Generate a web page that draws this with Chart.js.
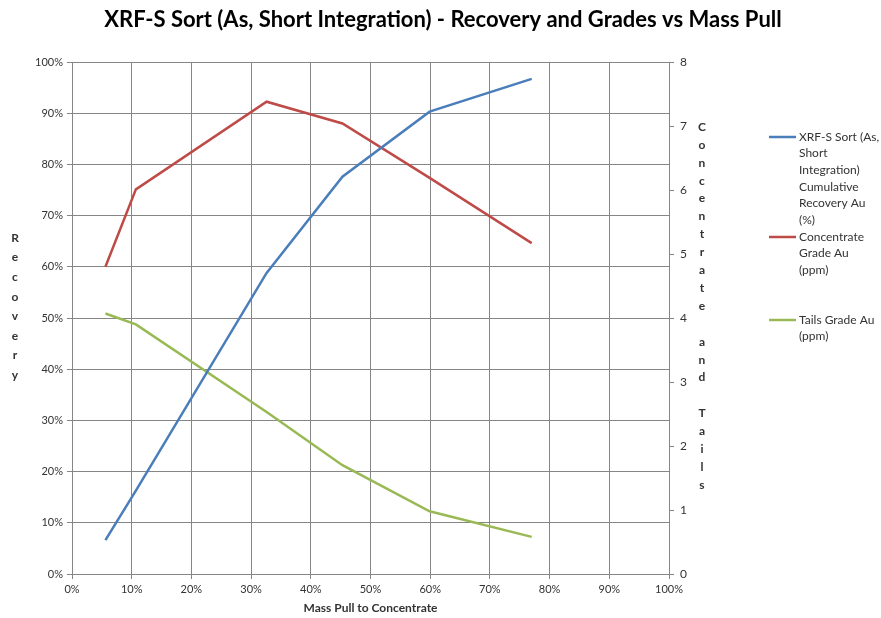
<!DOCTYPE html>
<html>
<head>
<meta charset="utf-8">
<script src="https://cdn.jsdelivr.net/npm/chart.js@4/dist/chart.umd.min.js"></script>
<style>
  body { margin: 0; background: #fff; }
  #wrap { width: 881px; height: 618px; position: relative; }
</style>
</head>
<body>
<div id="wrap"><canvas id="myChart" width="881" height="618"></canvas></div>
<script>
let massPull = [5.6, 10.7, 32.6, 45.3, 59.9, 77.0]
let recovery = [6.6, 16.3, 58.8, 77.6, 90.3, 96.7]
let concGrade = [4.80, 6.01, 7.38, 7.04, 6.19, 5.17]
let tailsGrade = [4.07, 3.90, 2.53, 1.70, 0.98, 0.58]

let seriesNames = [
    'XRF-S Sort (As, Short Integration) Cumulative Recovery Au (%)',
    'Concentrate Grade Au (ppm)',
    'Tails Grade Au (ppm)'
]
let legendLines = [
    ['XRF-S Sort (As,', 'Short', 'Integration)', 'Cumulative', 'Recovery Au', '(%)'],
    ['Concentrate', 'Grade Au', '(ppm)'],
    ['Tails Grade Au', '(ppm)']
]
let legendTop = [137, 237, 320]
let colors = ['#4a7ebb', '#be4b48', '#98b954']

let chartTitle = 'XRF-S Sort (As, Short Integration) - Recovery and Grades vs Mass Pull'
let xTitle = 'Mass Pull to Concentrate'
let leftTitle = 'Recovery'
let rightTitle = 'Concentrate and Tails'

let fontName = 'Lato, "Open Sans", sans-serif'
let gridColor = '#868686'
let textColor = '#333333'

function pairs(xs, ys) {
    return xs.map(function(x, i) { return { x: x, y: ys[i] } })
}

// title, stacked axis titles and legend drawn by hand
let extras = {
    id: 'extras',
    afterDraw: function(chart) {
        let ctx = chart.ctx
        ctx.save()
        ctx.fillStyle = '#000'
        ctx.textAlign = 'center'
        ctx.textBaseline = 'middle'
        ctx.font = 'bold 22px ' + fontName
        ctx.fillText(chartTitle, 443, 20)

        ctx.font = 'bold 12px ' + fontName
        ctx.fillStyle = textColor
        leftTitle.split('').forEach(function(ch, i) {
            ctx.fillText(ch, 15, 238 + i * 19.6)
        })
        rightTitle.split('').forEach(function(ch, i) {
            ctx.fillText(ch, 702, 127 + i * 17.9)
        })

        ctx.font = '12px ' + fontName
        ctx.textAlign = 'left'
        legendLines.forEach(function(lines, k) {
            ctx.strokeStyle = colors[k]
            ctx.lineWidth = 2.5
            ctx.beginPath()
            ctx.moveTo(769, legendTop[k])
            ctx.lineTo(796, legendTop[k])
            ctx.stroke()
            lines.forEach(function(t, j) {
                ctx.fillText(t, 799, legendTop[k] + j * 16.6)
            })
        })
        ctx.restore()
    }
}

let chart = new Chart(document.getElementById('myChart'), {
    type: 'line',
    data: {
        datasets: [{
                label: seriesNames[0],
                data: pairs(massPull, recovery),
                borderColor: colors[0],
                yAxisID: 'y'
            },
            {
                label: seriesNames[1],
                data: pairs(massPull, concGrade),
                borderColor: colors[1],
                yAxisID: 'y2'
            },
            {
                label: seriesNames[2],
                data: pairs(massPull, tailsGrade),
                borderColor: colors[2],
                yAxisID: 'y2'
            }
        ]
    },
    plugins: [extras],
    options: {
        responsive: false,
        animation: false,
        datasets: { line: { borderWidth: 2.5, pointRadius: 0, tension: 0, fill: false } },
        layout: { padding: { left: 28, right: 172, top: 62, bottom: 0 } },
        plugins: { legend: { display: false }, tooltip: { enabled: false } },
        scales: {
            x: {
                type: 'linear',
                min: 0,
                max: 100,
                afterFit: function(s) { s.height = 44 },
                grid: { color: gridColor, tickLength: 5 },
                border: { color: gridColor },
                ticks: {
                    stepSize: 10,
                    padding: 4,
                    color: textColor,
                    font: { family: fontName, size: 11 },
                    callback: function(v) { return v + '%' }
                },
                title: {
                    display: true,
                    text: xTitle,
                    color: textColor,
                    font: { family: fontName, size: 12, weight: 'bold' },
                    padding: { top: 0, bottom: 3 }
                }
            },
            y: {
                position: 'left',
                min: 0,
                max: 100,
                afterFit: function(s) { s.width = 44 },
                grid: { color: gridColor, tickLength: 5 },
                border: { color: gridColor },
                ticks: {
                    stepSize: 10,
                    padding: 4,
                    color: textColor,
                    font: { family: fontName, size: 11 },
                    callback: function(v) { return v + '%' }
                }
            },
            y2: {
                position: 'right',
                min: 0,
                max: 8,
                afterFit: function(s) { s.width = 40 },
                grid: { drawOnChartArea: false, color: gridColor, tickLength: 5 },
                border: { color: gridColor },
                ticks: {
                    stepSize: 1,
                    padding: 6,
                    color: textColor,
                    font: { family: fontName, size: 12 }
                }
            }
        }
    }
})
</script>
</body>
</html>
